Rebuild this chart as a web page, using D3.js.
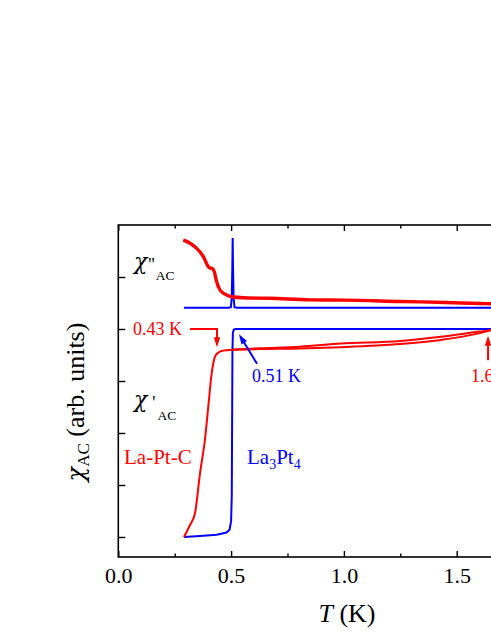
<!DOCTYPE html>
<html><head><meta charset="utf-8">
<script src="https://cdn.jsdelivr.net/npm/d3@7"></script>
<style>
html,body{margin:0;padding:0;background:#fff;}
svg{display:block;font-family:"Liberation Serif","Times New Roman",serif;}
</style></head>
<body><svg id="c" width="491" height="635"></svg>
<script>
// ---- data (T in K, chi in arbitrary units) ----
const xTicks = [0, 0.5, 1.0, 1.5];
const xTicksOffView = [2.0];
const xMinorTicks = [0.25, 0.75, 1.25, 1.75];
const yTicks = [0, 1, 2, 3, 4, 5];

const chi2Red = [[0.288,5.71],[0.300,5.69],[0.318,5.65],[0.3475,5.55],[0.377,5.39],[0.399,5.20],
  [0.407,5.17],[0.414,5.17],[0.4255,5.10],[0.436,4.91],[0.451,4.75],[0.473,4.67],[0.503,4.62],
  [0.554,4.60],[0.672,4.59],[0.85,4.56],[1.0,4.555],[1.249,4.53],[1.45,4.51],[1.603,4.49],[1.70,4.48]];
const chi2Blue = [[0.291,4.41],[0.49,4.41],[0.499,4.42],[0.503,4.6],[0.5055,5.2],[0.507,5.75],
  [0.5085,5.2],[0.511,4.6],[0.515,4.42],[0.525,4.41],[1.70,4.41]];
const chi1RedWarm = [[0.291,0],[0.318,0.23],[0.340,0.455],[0.362,1.22],[0.384,1.87],[0.399,2.51],
  [0.414,3.15],[0.4287,3.47],[0.443,3.545],[0.458,3.575],[0.51,3.60],[0.628,3.615],[0.805,3.625],
  [0.987,3.65],[1.249,3.71],[1.43,3.79],[1.603,3.92],[1.647,3.97],[1.70,4.02]];
const chi1RedCool = [[1.70,4.02],[1.647,3.975],[1.603,3.95],[1.43,3.85],[1.249,3.77],[0.987,3.72],
  [0.805,3.66],[0.628,3.63],[0.51,3.605]];
const chi1Blue = [[0.291,0],[0.362,0.02],[0.436,0.045],[0.480,0.085],[0.493,0.14],[0.500,0.3],
  [0.503,0.8],[0.5045,2.2],[0.506,3.6],[0.508,3.93],[0.512,3.99],[0.52,4.0],[1.70,4.0]];

// annotation arrows [T, chi] : start ... tip
const arrowRed043 = [[0.318,4.0],[0.4375,4.0],[0.4375,3.65]];
const arrowBlue051 = [[0.615,3.33],[0.535,3.90]];
const arrowRed165 = [[1.639,3.40],[1.639,3.87]];

const red = "#ff0000", blue = "#0000ff";
const svg = d3.select("#c");
const x = d3.scaleLinear().domain([0,2]).range([118.3,569.5]);
const y = d3.scaleLinear().domain([-0.385,6]).range([557,225]);

svg.append("defs").append("clipPath").attr("id","clip")
  .append("rect").attr("x",x(0)).attr("y",y(6)).attr("width",x(2)-x(0)).attr("height",y(-0.385)-y(6));

// axes
const gB = svg.append("g").attr("transform",`translate(0,${y(-0.385)})`)
  .call(d3.axisBottom(x).tickValues(xTicks).tickSize(-6).tickPadding(10).tickFormat(d3.format(".1f")));
const gB2 = svg.append("g").attr("transform",`translate(0,${y(-0.385)})`)
  .call(d3.axisBottom(x).tickValues(xTicksOffView).tickSize(-6).tickFormat(""));
const gBm = svg.append("g").attr("transform",`translate(0,${y(-0.385)})`)
  .call(d3.axisBottom(x).tickValues(xMinorTicks).tickSize(-3.5).tickFormat(""));
const gT = svg.append("g").attr("transform",`translate(0,${y(6)})`)
  .call(d3.axisTop(x).tickValues(xTicks.concat(xTicksOffView)).tickSize(-6).tickFormat(""));
const gTm = svg.append("g").attr("transform",`translate(0,${y(6)})`)
  .call(d3.axisTop(x).tickValues(xMinorTicks).tickSize(-3.5).tickFormat(""));
const gL = svg.append("g").attr("transform",`translate(${x(0)},0)`)
  .call(d3.axisLeft(y).tickValues(yTicks).tickSize(-7).tickFormat(""));
[gB,gB2,gBm,gT,gTm,gL].forEach(g=>{
  g.select(".domain").remove();
  g.selectAll("line").attr("stroke","#000").attr("stroke-width",1.4);
});
gB.selectAll("text").attr("font-size",22).attr("fill","#000").attr("font-family","Liberation Serif");

svg.append("rect").attr("x",x(0)).attr("y",y(6)).attr("width",x(2)-x(0)).attr("height",y(-0.385)-y(6))
  .attr("fill","none").attr("stroke","#000").attr("stroke-width",1.6);

// data lines
const line = d3.line().x(d=>x(d[0])).y(d=>y(d[1]));
const smooth = d3.line().x(d=>x(d[0])).y(d=>y(d[1])).curve(d3.curveMonotoneX);
const gD = svg.append("g").attr("clip-path","url(#clip)");
gD.append("path").datum(chi2Blue).attr("d",line).attr("fill","none").attr("stroke",blue).attr("stroke-width",2);
gD.append("path").datum(chi2Red).attr("d",smooth).attr("fill","none").attr("stroke",red).attr("stroke-width",3.4).attr("stroke-linejoin","round");
gD.append("path").datum(chi1Blue).attr("d",line).attr("fill","none").attr("stroke",blue).attr("stroke-width",2);
gD.append("path").datum(chi1RedWarm).attr("d",smooth).attr("fill","none").attr("stroke",red).attr("stroke-width",2);
gD.append("path").datum(chi1RedCool).attr("d",smooth).attr("fill","none").attr("stroke",red).attr("stroke-width",2);

// arrows
function shorten(p){const a=p[p.length-2],b=p[p.length-1];const d=Math.hypot(b[0]-a[0],b[1]-a[1]);const t=(d-6)/d;return [a[0]+(b[0]-a[0])*t,a[1]+(b[1]-a[1])*t];}
function arrow(pts,color){
  const p = pts.map(d=>[x(d[0]),y(d[1])]);
  svg.append("path").attr("d",d3.line()(p.slice(0,-1).concat([shorten(p)]))).attr("fill","none")
    .attr("stroke",color).attr("stroke-width",2);
  const a=p[p.length-2], b=p[p.length-1];
  const ang=Math.atan2(b[1]-a[1],b[0]-a[0]);
  const L=10,Wd=3.2;
  const bx=b[0]-L*Math.cos(ang), by=b[1]-L*Math.sin(ang);
  const nx=-Math.sin(ang), ny=Math.cos(ang);
  svg.append("path").attr("d",`M${b[0]},${b[1]}L${bx+nx*Wd},${by+ny*Wd}L${bx-nx*Wd},${by-ny*Wd}Z`).attr("fill",color);
}
arrow(arrowRed043,red);
arrow(arrowBlue051,blue);
arrow(arrowRed165,red);

// texts
function txt(xp,yp,s,color,size){return svg.append("text").attr("x",xp).attr("y",yp).attr("fill",color).attr("font-size",size).text(s);}
txt(133,335,"0.43 K",red,18);
txt(252,382,"0.51 K",blue,18);
txt(471,382,"1.65 K",red,18);
txt(124,464,"La-Pt-C",red,21);
const t3 = svg.append("text").attr("x",247).attr("y",464).attr("fill",blue).attr("font-size",21);
t3.append("tspan").text("La");
t3.append("tspan").attr("font-size",14).attr("dy",5).text("3");
t3.append("tspan").attr("dy",-5).text("Pt");
t3.append("tspan").attr("font-size",14).attr("dy",5).text("4");

function chiLabel(xp,yp,primes,pdx,sdx,sy){
  const t = svg.append("text").attr("x",xp).attr("y",yp).attr("fill","#000").attr("font-size",22);
  t.append("tspan").attr("font-style","italic").attr("font-family","DejaVu Serif").text("χ");
  t.append("tspan").attr("font-size",18).attr("dx",pdx).attr("dy",2).text(primes);
  t.append("tspan").attr("font-size",13.5).attr("dx",sdx).attr("dy",sy).text("AC");
}
chiLabel(134,269,"''",1,1,9);
chiLabel(134,407,"'",5,2,11);

// axis labels
const xl = svg.append("text").attr("x",347).attr("y",622).attr("text-anchor","middle").attr("font-size",26).attr("fill","#000");
xl.append("tspan").attr("font-style","italic").text("T");
xl.append("tspan").text(" (K)");

const yl = svg.append("text").attr("transform","translate(84,402) rotate(-90)").attr("text-anchor","middle").attr("font-size",26).attr("fill","#000");
yl.append("tspan").attr("font-style","italic").attr("font-family","DejaVu Serif").attr("font-size",24).text("χ");
yl.append("tspan").attr("font-size",17).attr("dy",5).text("AC");
yl.append("tspan").attr("dy",-5).text(" (arb. units)");
</script></body></html>
